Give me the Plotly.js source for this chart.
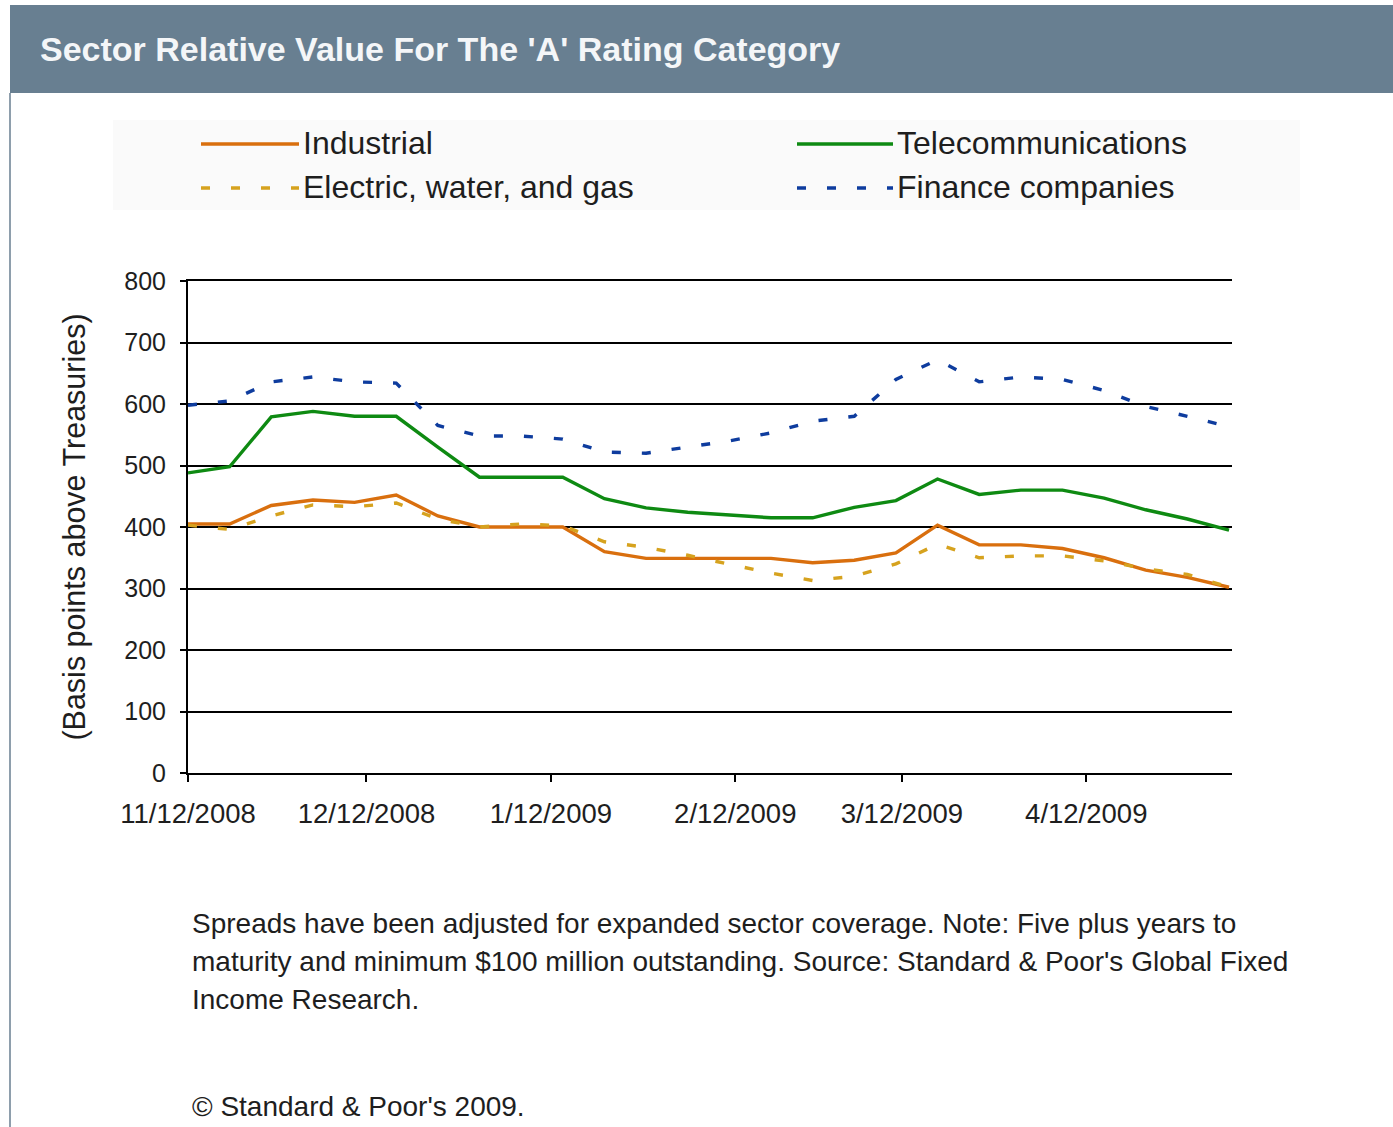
<!DOCTYPE html>
<html>
<head>
<meta charset="utf-8">
<script src="https://cdn.plot.ly/plotly-3.0.1.min.js"></script>
<style>
html,body{margin:0;padding:0;background:#fff;}
#chart{width:1393px;height:1127px;}
</style>
</head>
<body>
<div id="chart"></div>
<script>
// ---- data (weekly readings, basis points above Treasuries) ----
const dates = ['2008-11-12','2008-11-19','2008-11-26','2008-12-03','2008-12-10','2008-12-17','2008-12-24','2008-12-31',
  '2009-01-07','2009-01-14','2009-01-21','2009-01-28','2009-02-04','2009-02-11','2009-02-18','2009-02-25',
  '2009-03-04','2009-03-11','2009-03-18','2009-03-25','2009-04-01','2009-04-08','2009-04-15','2009-04-22','2009-04-29','2009-05-06'];
const industrial = [405,405,435,444,440,452,418,400,400,400,360,349,349,349,349,342,346,358,403,371,371,365,350,330,318,302];
const telecom    = [488,498,579,588,580,580,530,481,481,481,446,431,424,420,415,415,432,443,478,453,460,460,447,428,413,395];
const electric   = [403,396,418,436,433,439,413,400,405,402,376,367,354,340,325,313,320,340,372,350,353,353,345,332,323,302];
const finance    = [598,605,636,644,636,634,565,548,548,543,522,520,530,540,553,572,580,640,672,636,644,640,622,596,580,563];

const seriesNames = ['Industrial','Telecommunications','Electric, water, and gas','Finance companies'];
const tickDates = ['2008-11-12','2008-12-12','2009-01-12','2009-02-12','2009-03-12','2009-04-12'];
const tickLabels = ['11/12/2008','12/12/2008','1/12/2009','2/12/2009','3/12/2009','4/12/2009'];
const yTicks = [0,100,200,300,400,500,600,700,800];

const titleText = "Sector Relative Value For The 'A' Rating Category";
const noteLines = [
  'Spreads have been adjusted for expanded sector coverage. Note: Five plus years to',
  'maturity and minimum $100 million outstanding. Source: Standard &amp; Poor\'s Global Fixed',
  'Income Research.'
];
const copyright = '\u00A9 Standard &amp; Poor\'s 2009.';

// ---- styling ----
const W = 1393, H = 1127;
const L = 188, R = 1232, T = 281, B = 773;
// convert figure pixels to plot-area "paper" fractions
const px = v => (v - L) / (R - L);
const py = v => (B - v) / (B - T);
const FONT = '"Liberation Sans", Arial, sans-serif';
const colors = ['#D96F0E', '#0E8A12', '#D6A21E', '#0E3C9E'];
const dashes = ['solid', 'solid', '9px,21px', '9px,21px'];
const values = [industrial, telecom, electric, finance];

const traces = values.map((v, i) => ({
  type: 'scatter', mode: 'lines', x: dates, y: v, name: seriesNames[i],
  line: {color: colors[i], width: 3.4, dash: dashes[i]},
  showlegend: false, hoverinfo: 'x+y+name'
}));

// custom legend (long line samples, as in the original)
const legendPos = [
  {x0: 201, x1: 299, y: 144, tx: 301},
  {x0: 797, x1: 893, y: 144, tx: 895},
  {x0: 201, x1: 299, y: 188, tx: 301},
  {x0: 797, x1: 893, y: 188, tx: 895}
];

const shapes = [
  {type: 'rect', xref: 'paper', yref: 'paper', x0: px(10), x1: px(W), y0: py(93), y1: py(5),
   fillcolor: '#687F91', line: {width: 0}, layer: 'below'},
  {type: 'line', xref: 'paper', yref: 'paper', x0: px(10), x1: px(10), y0: py(H), y1: py(93),
   line: {color: '#8E9EAC', width: 2}, layer: 'below'},
  {type: 'rect', xref: 'paper', yref: 'paper', x0: px(113), x1: px(1300), y0: py(210), y1: py(120),
   fillcolor: '#FAFAFA', line: {width: 0}, layer: 'below'}
];
legendPos.forEach((p, i) => {
  shapes.push({type: 'line', xref: 'paper', yref: 'paper', x0: px(p.x0), x1: px(p.x1), y0: py(p.y), y1: py(p.y),
    line: {color: colors[i], width: 3.4, dash: dashes[i]}});
});

const annotations = [];
legendPos.forEach((p, i) => {
  annotations.push({xref: 'paper', yref: 'paper', x: px(p.tx), y: py(p.y - 1), xanchor: 'left', yanchor: 'middle',
    text: seriesNames[i], showarrow: false, font: {family: FONT, size: 32, color: '#1E1E1E'}});
});
const noteY = [923, 961, 999];
noteLines.forEach((t, i) => {
  annotations.push({xref: 'paper', yref: 'paper', x: px(190), y: py(noteY[i]), xanchor: 'left', yanchor: 'middle',
    text: t, showarrow: false, font: {family: FONT, size: 28, color: '#1E1E1E'}});
});
annotations.push({xref: 'paper', yref: 'paper', x: px(190), y: py(1106), xanchor: 'left', yanchor: 'middle',
  text: copyright, showarrow: false, font: {family: FONT, size: 28, color: '#1E1E1E'}});

const layout = {
  width: W, height: H,
  paper_bgcolor: '#FFFFFF', plot_bgcolor: '#FFFFFF',
  margin: {l: L, r: W - R, t: T, b: H - B, pad: 0},
  title: {text: titleText, x: 40 / W, xanchor: 'left', xref: 'container', y: 1 - 49 / H, yanchor: 'middle', yref: 'container',
    font: {family: FONT, size: 34, color: '#F4F6F8', weight: 'bold'}},
  font: {family: FONT, color: '#1E1E1E'},
  xaxis: {
    type: 'date', range: ['2008-11-12', '2009-05-06 12:00'],
    tickmode: 'array', tickvals: tickDates, ticktext: tickLabels,
    showgrid: false, zeroline: false,
    showline: true, mirror: true, linecolor: '#000', linewidth: 2,
    ticks: 'outside', ticklen: 7, tickwidth: 2, tickcolor: '#000',
    tickfont: {family: FONT, size: 27.5, color: '#1E1E1E'}, ticklabelstandoff: 8
  },
  yaxis: {
    range: [0, 800], tickmode: 'array', tickvals: yTicks,
    showgrid: true, gridcolor: '#000', gridwidth: 2, zeroline: false,
    showline: true, linecolor: '#000', linewidth: 2,
    ticks: 'outside', ticklen: 6, tickwidth: 2, tickcolor: '#000',
    tickfont: {family: FONT, size: 25, color: '#1E1E1E'}, ticklabelstandoff: 9,
    title: {text: '(Basis points above Treasuries)', standoff: 30, font: {family: FONT, size: 30.5, color: '#1E1E1E'}}
  },
  shapes: shapes,
  annotations: annotations,
  showlegend: false
};

Plotly.newPlot('chart', traces, layout, {displayModeBar: false, staticPlot: true});
</script>
</body>
</html>
